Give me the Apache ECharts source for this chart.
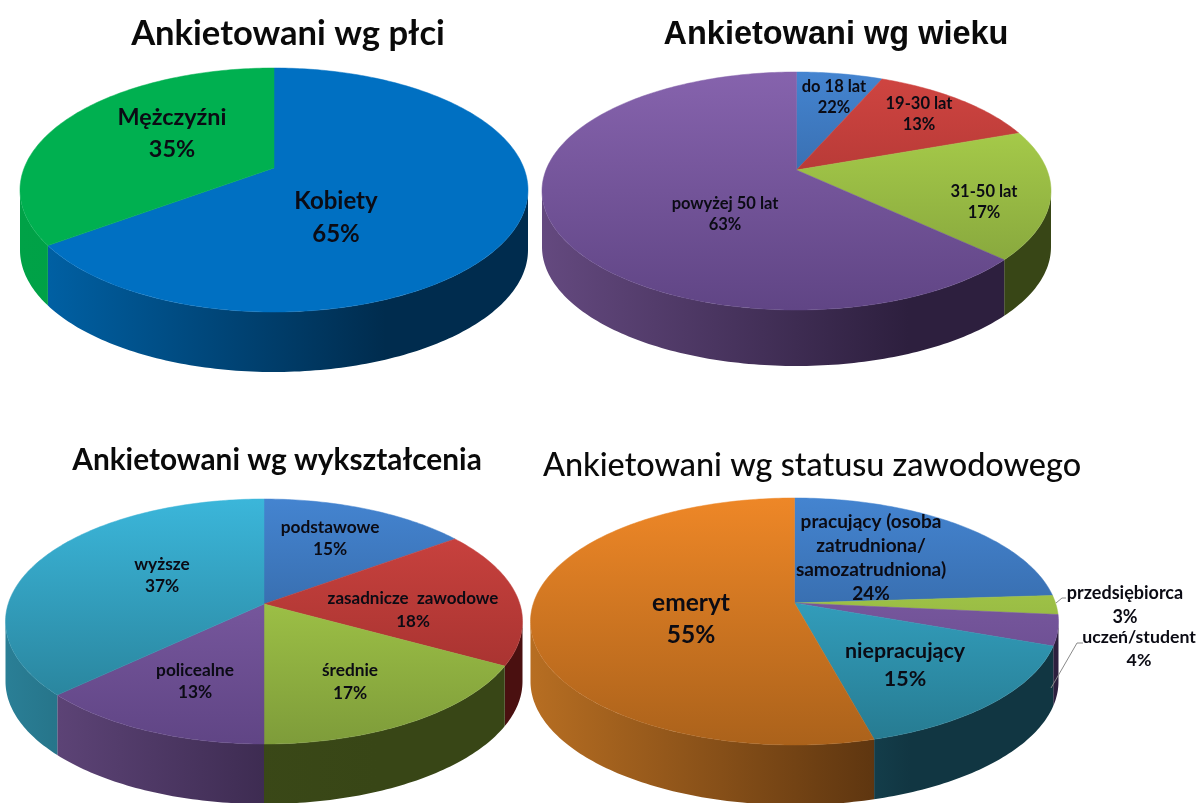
<!DOCTYPE html>
<html><head><meta charset="utf-8">
<script src="https://cdn.jsdelivr.net/npm/echarts@6/dist/echarts.min.js"></script>
<style>html,body{margin:0;padding:0;background:#fff}#c{width:1198px;height:803px;filter:blur(0.5px)}</style>
</head><body><div id="c"></div>
<script>
// ---- data ----
const plecNames = ['Kobiety', 'Mężczyźni'];
const plecShares = [65, 35];
const plecLabels = ['65%', '35%'];

const wiekNames = ['do 18 lat', '19-30 lat', '31-50 lat', 'powyżej 50 lat'];
const wiekShares = [6.5, 13, 17.5, 63];      // drawn size of the slices
const wiekLabels = ['22%', '13%', '17%', '63%']; // printed text (as in the source)

const wyksztNames = ['podstawowe', 'zasadnicze  zawodowe', 'średnie', 'policealne', 'wyższe'];
const wyksztShares = [15, 18, 17, 13, 37];
const wyksztLabels = ['15%', '18%', '17%', '13%', '37%'];

const statusNames = ['pracujący (osoba\nzatrudniona/\nsamozatrudniona)', 'przedsiębiorca', 'uczeń/student', 'niepracujący', 'emeryt'];
const statusShares = [24, 2.5, 4, 15.3, 54.2];
const statusLabels = ['24%', '3%', '4%', '15%', '55%'];

const titles = ['Ankietowani wg płci', 'Ankietowani wg wieku', 'Ankietowani wg wykształcenia', 'Ankietowani wg statusu zawodowego'];

// ---- style and layout ----
const C = {
  flatBlue:  {top:['#0070c2','#0070c2'], wall:['#0064aa','#002c4e']},
  flatGreen: {top:['#00b050','#00b050'], wall:['#00a247','#009a44']},
  blue:   {top:['#4484d0','#2a5488'], wall:['#3a6ea8','#1f3a5c']},
  red:    {top:['#d04541','#982c2a'], wall:['#7a2020','#4a1010']},
  green:  {top:['#b2d94e','#7e9c3a'], wall:['#3e4c1a','#384616']},
  purple: {top:['#8663ad','#604585'], wall:['#64497f','#2d1f3e']},
  teal:   {top:['#3bb6da','#267a90'], wall:['#2a7f96','#113642']},
  orange: {top:['#ee8727','#ab621b'], wall:['#b76e22','#55300e']}
};
const pies = [
  {names:plecNames, shares:plecShares, labels:plecLabels, cols:[C.flatBlue,C.flatGreen],
   cx:274, apex:168, top:68, bottom:312, halfW:254, depth:60,
   text:[{at:[336,218],size:24,lh:33},{at:[172,133],size:23.4,lh:32}]},
  {names:wiekNames, shares:wiekShares, labels:wiekLabels, cols:[C.blue,C.red,C.green,C.purple],
   cx:796.5, apex:170, top:72, bottom:310, halfW:254.5, depth:56,
   text:[{at:[834,97],size:16.5,lh:21},{at:[919,114],size:16.5,lh:21},{at:[984,202],size:16.5,lh:21},{at:[725,214],size:16.5,lh:21}]},
  {names:wyksztNames, shares:wyksztShares, labels:wyksztLabels, cols:[C.blue,C.red,C.green,C.purple,C.teal],
   cx:264, apex:604, top:499, bottom:744, halfW:258.5, depth:60,
   text:[{at:[330,538],size:17.3,lh:22},{at:[413,610],size:17,lh:23},{at:[350,682],size:17.3,lh:23},{at:[195,681],size:17.3,lh:22},{at:[162,575],size:17.3,lh:22}]},
  {names:statusNames, shares:statusShares, labels:statusLabels, cols:[C.blue,C.green,C.purple,C.teal,C.orange],
   cx:794.5, apex:603, top:498, bottom:745, halfW:264, depth:60,
   text:[{at:[871,558],size:19,lh:24},{at:[1125,605],size:18,lh:24},{at:[1139,649],size:17.7,lh:23},{at:[905,665],size:21.4,lh:28},{at:[691,619],size:24.5,lh:32}]}
];
const titleStyle = [
  {x:283,y:11,size:34.6,weight:700,family:'Lato'},
  {x:831,y:14,size:32.5,weight:700,family:'Liberation Sans'},
  {x:272,y:440,size:29.8,weight:700,family:'Lato'},
  {x:807,y:445,size:32.4,weight:500,family:'Lato'}
];
const leaders = [
  [[1056,603],[1062,598],[1066,598]],
  [[1051,688],[1077,643],[1083,643]]
];
const SAMPLES_PER_DEG = 1;

// perspective view of a flat disc
function projector(p){
  const up = p.apex - p.top, down = p.bottom - p.apex;
  const k = (down - up) / (down + up);
  const B = up * (1 + k);
  const A = p.halfW * Math.sqrt(1 - k * k);
  return {
    k,
    at(theta, r){
      const u = r * Math.sin(theta), v = -r * Math.cos(theta), w = 1 - k * v;
      return [p.cx + A * u / w, p.apex + B * v / w];
    }
  };
}
function sliceAngles(p, i){
  const total = p.shares.reduce((a,b)=>a+b,0);
  const before = p.shares.slice(0,i).reduce((a,b)=>a+b,0);
  return [before/total*2*Math.PI, (before+p.shares[i])/total*2*Math.PI];
}
function arc(view, a0, a1){
  const n = Math.max(2, Math.ceil((a1-a0)*180/Math.PI*SAMPLES_PER_DEG));
  const pts = [];
  for(let j=0;j<=n;j++) pts.push(view.at(a0+(a1-a0)*j/n,1));
  return pts;
}
const G = echarts.graphic.LinearGradient;

const series = [];
pies.forEach(p=>{
  const view = projector(p);
  const rightEdge = Math.acos(-view.k), leftEdge = 2*Math.PI-rightEdge;
  series.push({
    type:'custom', coordinateSystem:'none', silent:true, z:2, animation:false, data:p.shares,
    renderItem(params){
      const i = params.dataIndex, [a0,a1] = sliceAngles(p,i);
      const s = Math.max(a0,rightEdge), e = Math.min(a1,leftEdge);
      if(e<=s) return {type:'group',children:[]};
      const rim = arc(view,s,e);
      const low = rim.map(q=>[q[0],q[1]+p.depth]).reverse();
      const col = p.cols[i].wall;
      return {type:'polygon',shape:{points:rim.concat(low)},style:{
        fill:new G(p.cx-p.halfW,0,p.cx+p.halfW,0,[{offset:0,color:col[0]},{offset:.72,color:col[1]},{offset:1,color:col[1]}],true)}};
    }
  });
  series.push({
    type:'custom', coordinateSystem:'none', silent:true, z:3, animation:false, data:p.shares,
    renderItem(params){
      const i = params.dataIndex, [a0,a1] = sliceAngles(p,i);
      const col = p.cols[i].top;
      return {type:'polygon',shape:{points:[view.at(0,0)].concat(arc(view,a0,a1))},style:{
        fill:new G(0,p.top,0,p.bottom,[{offset:0,color:col[0]},{offset:1,color:col[1]}],true),
        stroke:new G(0,p.top,0,p.bottom,[{offset:0,color:col[0]},{offset:1,color:col[1]}],true),lineWidth:.5}};
    }
  });
  series.push({
    type:'custom', coordinateSystem:'none', silent:true, z:5, animation:false, data:p.shares,
    renderItem(params){
      const i = params.dataIndex, t = p.text[i];
      return {type:'text',x:t.at[0],y:t.at[1],style:{
        text:p.names[i]+'\n'+p.labels[i],align:'center',verticalAlign:'middle',
        fontFamily:'Lato',fontSize:t.size,fontWeight:700,lineHeight:t.lh,fill:'#0b0b14'}};
    }
  });
});
series.push({
  type:'custom', coordinateSystem:'none', silent:true, z:4, animation:false, data:leaders.map((_,i)=>i),
  renderItem(params){
    return {type:'polyline',shape:{points:leaders[params.dataIndex]},style:{fill:'none',stroke:'#8a8a8a',lineWidth:1}};
  }
});

const chart = echarts.init(document.getElementById('c'),null,{renderer:'canvas'});
chart.setOption({
  animation:false,
  backgroundColor:'#ffffff',
  title:titles.map((t,i)=>({
    text:t,left:titleStyle[i].x,top:titleStyle[i].y,textAlign:'center',
    textStyle:{color:'#0a0a0a',fontFamily:titleStyle[i].family,fontSize:titleStyle[i].size,fontWeight:titleStyle[i].weight}
  })),
  series
});
</script></body></html>
